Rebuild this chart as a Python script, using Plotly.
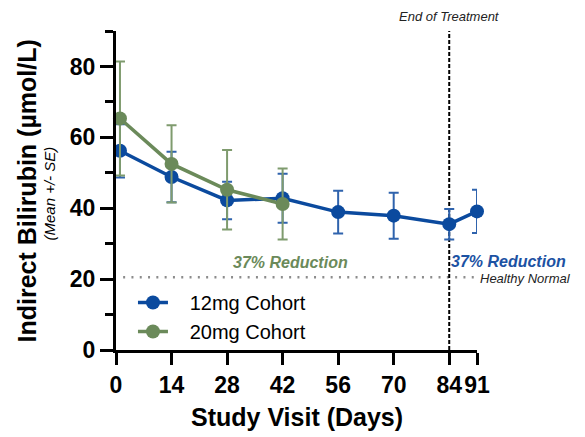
import plotly.graph_objects as go

# ---- data ----
days_12 = [1, 14, 28, 42, 56, 70, 84, 91]
mean_12 = [56.2, 48.8, 42.2, 42.8, 38.9, 37.9, 35.5, 39.1]
se_12 = [7.5, 7.1, 5.3, 6.9, 6.0, 6.5, 4.3, 6.1]

days_20 = [1, 14, 28, 42]
mean_20 = [65.3, 52.5, 45.2, 41.2]
se_20 = [16.1, 10.9, 11.2, 10.0]

series_names = ["12mg Cohort", "20mg Cohort"]
x_ticks = [0, 14, 28, 42, 56, 70, 84, 91]
y_ticks = [0, 20, 40, 60, 80]
healthy_normal = 20.5
end_of_treatment = 84

BLUE = "#0b4a9e"
BLUE_ERR = "#2f63ad"
GREEN = "#6b8a5a"
GREEN_ERR = "#7f9b6e"
FONT = "Liberation Sans, Arial, sans-serif"
PAD = "\u00a0\u00a0\u00a0"

fig = go.Figure()
fig.add_trace(go.Scatter(
    x=days_12, y=mean_12, name=PAD + series_names[0], mode="lines+markers",
    line=dict(color=BLUE, width=3.5),
    marker=dict(color=BLUE, size=14),
    error_y=dict(type="data", array=se_12, color=BLUE_ERR, thickness=2, width=5),
    cliponaxis=False,
))
fig.add_trace(go.Scatter(
    x=days_20, y=mean_20, name=PAD + series_names[1], mode="lines+markers",
    line=dict(color=GREEN, width=3.5),
    marker=dict(color=GREEN, size=14),
    error_y=dict(type="data", array=se_20, color=GREEN_ERR, thickness=2, width=5),
    cliponaxis=False,
))

# reference lines
fig.add_shape(type="line", xref="x", yref="y", x0=1.8, x1=90.6,
              y0=healthy_normal, y1=healthy_normal,
              line=dict(color="#8c8c8c", width=2.5, dash="2px,6.3px"), layer="below")
fig.add_shape(type="line", xref="x", yref="y", x0=end_of_treatment, x1=end_of_treatment,
              y0=0, y1=90, line=dict(color="black", width=2, dash="4px,2px"), layer="below")

ann = [
    dict(text="End of Treatment", x=end_of_treatment, y=1.047, xref="x", yref="paper",
         xanchor="center", yanchor="middle", showarrow=False,
         font=dict(family=FONT, size=13, color="#222", style="italic")),
    dict(text="37% Reduction", x=43.9, y=24.8, xref="x", yref="y", showarrow=False,
         xanchor="center", yanchor="middle",
         font=dict(family=FONT, size=16, color=GREEN, style="italic", weight="bold")),
    dict(text="37% Reduction", x=1.086, y=0.276, xref="paper", yref="paper", showarrow=False,
         xanchor="center", yanchor="middle",
         font=dict(family=FONT, size=16, color="#1c52a3", style="italic", weight="bold")),
    dict(text="Healthy Normal", x=1.134, y=0.2257, xref="paper", yref="paper", showarrow=False,
         xanchor="center", yanchor="middle",
         font=dict(family=FONT, size=13, color="#222", style="italic")),
    dict(text="Indirect Bilirubin (µmol/L)", x=0, y=0.5, xref="paper", yref="paper",
         xshift=-90, yshift=-1, textangle=-90, showarrow=False,
         xanchor="center", yanchor="middle",
         font=dict(family=FONT, size=25, color="black", weight="bold")),
    dict(text="(Mean +/- SE)", x=0, y=0.5, xref="paper", yref="paper",
         xshift=-67, yshift=-3, textangle=-90, showarrow=False,
         xanchor="center", yanchor="middle",
         font=dict(family=FONT, size=15, color="black", style="italic")),
    dict(text="Study Visit (Days)", x=0.5, y=0, xref="paper", yref="paper",
         yshift=-67, showarrow=False, xanchor="center", yanchor="middle",
         font=dict(family=FONT, size=25, color="black", weight="bold")),
]

fig.update_layout(
    width=585, height=437,
    margin=dict(l=116, r=108, t=31, b=87),
    paper_bgcolor="white", plot_bgcolor="white",
    font=dict(family=FONT, color="black"),
    showlegend=True,
    legend=dict(x=0.047, y=0.21, xanchor="left", yanchor="top",
                font=dict(family=FONT, size=20, color="black"),
                itemwidth=30,
                bgcolor="rgba(0,0,0,0)", tracegroupgap=0),
    annotations=ann,
    xaxis=dict(range=[0, 91], tickmode="array", tickvals=x_ticks,
               ticktext=[str(v) for v in x_ticks], tickangle=0,
               showgrid=False, zeroline=False, showline=True, linecolor="black",
               linewidth=3, ticks="outside", ticklen=12, tickwidth=3, tickcolor="black",
               tickfont=dict(family=FONT, size=23, weight="bold", color="black")),
    yaxis=dict(range=[0, 90], tickmode="array", tickvals=y_ticks,
               showgrid=False, zeroline=False, showline=True, linecolor="black",
               linewidth=3, ticks="outside", ticklen=13, tickwidth=3, tickcolor="black",
               minor=dict(dtick=10, tick0=0, ticks="outside", ticklen=8, tickwidth=3,
                          tickcolor="black", showgrid=False),
               tickfont=dict(family=FONT, size=23, weight="bold", color="black")),
)

fig.write_html("out.html")
